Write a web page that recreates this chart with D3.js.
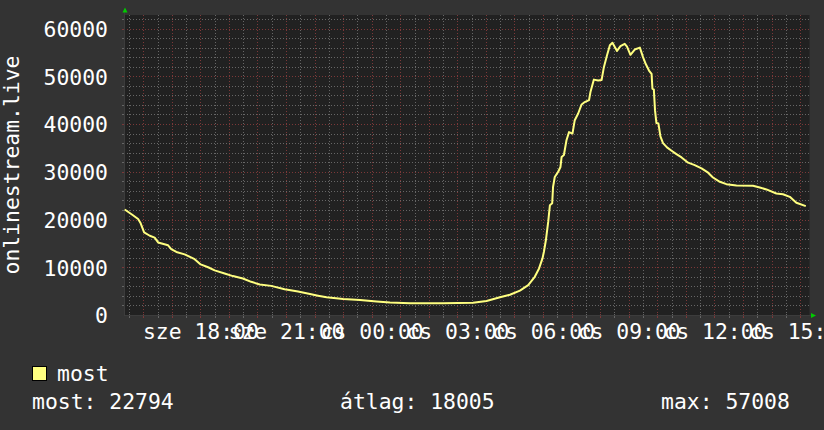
<!DOCTYPE html>
<html lang="hu">

<head>
    <meta charset="UTF-8">
    <title>onlinestream.live</title>
    <script src="https://d3js.org/d3.v7.min.js"></script>
    <style>
        body { margin: 0; background: #333333; }
        text { font-family: "DejaVu Sans Mono", monospace; fill: #ffffff; }
    </style>
</head>

<body>
    <script>
        var width = 824, height = 430;
        var fontSize = '21.4px';
        // plot box
        var plotLeft = 124, plotRight = 809.5, plotTop = 15, plotBottom = 315;

        // hours counted from wednesday 00:00 (24+ = thursday)
        var hours = [15.35, 15.64, 15.82, 15.91, 16.03, 16.23, 16.40, 16.52, 16.87, 16.98,
            17.16, 17.45, 17.80, 18.01, 18.27, 18.50, 18.85, 19.14, 19.49, 19.78,
            20.08, 20.48, 20.95, 21.42, 21.88, 22.12, 22.42, 23.00, 23.59, 24.17,
            24.64, 25.34, 26.50, 27.55, 28.02, 28.49, 28.84, 29.19, 29.48, 29.71,
            29.86, 29.98, 30.03, 30.10, 30.18, 30.24, 30.32, 30.35, 30.41, 30.53,
            30.61, 30.65, 30.73, 30.82, 30.91, 31.03, 31.11, 31.23, 31.35, 31.46,
            31.61, 31.66, 31.78, 31.93, 32.05, 32.13, 32.24, 32.34, 32.43, 32.59,
            32.71, 32.86, 32.94, 33.06, 33.21, 33.39, 33.50, 33.60, 33.71, 33.80,
            33.83, 33.88, 33.92, 33.97, 34.04, 34.11, 34.20, 34.34, 34.50, 34.67,
            34.85, 35.08, 35.31, 35.55, 35.78, 35.95, 36.19, 36.42, 36.77, 37.35,
            37.59, 37.82, 38.17, 38.40, 38.64, 38.87, 39.20];
        var most = [22100, 20900, 20100, 19200, 17300, 16600, 16200, 15200, 14600, 13800,
            13200, 12700, 11700, 10600, 10000, 9350, 8700, 8150, 7650, 6950,
            6400, 6100, 5400, 4900, 4350, 4050, 3700, 3350, 3150, 2850,
            2600, 2450, 2450, 2550, 2950, 3700, 4250, 5100, 6250, 8000,
            9750, 11850, 13250, 15700, 19500, 23000, 23400, 26800, 28900, 30000,
            31000, 33100, 33500, 36600, 38300, 38000, 40800, 42200, 44100, 44600,
            45000, 46700, 49300, 49100, 49200, 51900, 54400, 56500, 57008, 55300,
            56300, 56800, 56200, 54500, 55600, 56000, 54000, 52500, 51200, 50500,
            47400, 47200, 42900, 40200, 40100, 37400, 36000, 35100, 34400, 33700,
            33000, 31900, 31400, 30700, 29800, 28800, 27900, 27400, 27100, 27050,
            26700, 26300, 25450, 25300, 24750, 23500, 22794];

        var yTicks = [0, 10000, 20000, 30000, 40000, 50000, 60000];
        var xTickHours = [18, 21, 24, 27, 30, 33, 36, 39];
        var xTickLabels = ['sze 18:00', 'sze 21:00', 'cs 00:00', 'cs 03:00',
            'cs 06:00', 'cs 09:00', 'cs 12:00', 'cs 15:00'];

        // legend strings
        var seriesName = 'most';
        var statLabels = ['most: 22794', 'átlag: 18005', 'max: 57008'];

        var svg = d3.select('body').append('svg')
            .attr('width', width).attr('height', height);

        svg.append('rect').attr('width', width).attr('height', height).attr('fill', '#333333');

        var x = d3.scaleLinear().domain([15.326, 39.33]).range([plotLeft, plotRight]);
        var y = d3.scaleLinear().domain([0, 62830]).range([plotBottom, plotTop]);

        // plot background
        svg.append('rect')
            .attr('x', plotLeft).attr('y', plotTop)
            .attr('width', plotRight - plotLeft).attr('height', plotBottom - plotTop)
            .attr('fill', '#212121');

        var grid = svg.append('g').attr('shape-rendering', 'crispEdges');

        // minor grid, every 2000 / half hour; major every 10000 / hour
        var minorY = d3.range(2000, 62001, 2000).filter(function (d) { return d % 10000 != 0 });
        var minorX = d3.range(15.5, 39.4, 1);
        var majorY = yTicks.slice(1);
        var majorX = d3.range(16, 39.4, 1);

        function hline(vals, color) {
            grid.selectAll(null).data(vals).join('line')
                .attr('x1', plotLeft).attr('x2', plotRight)
                .attr('y1', function (d) { return Math.round(y(d)) + 0.5 })
                .attr('y2', function (d) { return Math.round(y(d)) + 0.5 })
                .attr('stroke', color).attr('stroke-dasharray', '1,2');
            // little ticks on the axis
            grid.selectAll(null).data(vals).join('line')
                .attr('x1', plotLeft - 2).attr('x2', plotLeft + 1)
                .attr('y1', function (d) { return Math.round(y(d)) + 0.5 })
                .attr('y2', function (d) { return Math.round(y(d)) + 0.5 })
                .attr('stroke', color);
        }
        function vline(vals, color) {
            grid.selectAll(null).data(vals).join('line')
                .attr('y1', plotTop).attr('y2', plotBottom)
                .attr('x1', function (d) { return Math.round(x(d)) + 0.5 })
                .attr('x2', function (d) { return Math.round(x(d)) + 0.5 })
                .attr('stroke', color).attr('stroke-dasharray', '1,2');
            grid.selectAll(null).data(vals).join('line')
                .attr('y1', plotBottom - 1).attr('y2', plotBottom + 3)
                .attr('x1', function (d) { return Math.round(x(d)) + 0.5 })
                .attr('x2', function (d) { return Math.round(x(d)) + 0.5 })
                .attr('stroke', color);
        }
        hline(minorY, '#666666');
        vline(minorX, '#666666');
        hline(majorY, '#7c3838');
        vline(majorX, '#7c3838');

        // axis lines
        grid.append('line').attr('x1', plotLeft + 0.5).attr('x2', plotLeft + 0.5)
            .attr('y1', 10).attr('y2', plotBottom + 0.5).attr('stroke', '#3c3c3c');
        grid.append('line').attr('x1', plotLeft).attr('x2', plotRight + 3)
            .attr('y1', plotBottom + 0.5).attr('y2', plotBottom + 0.5).attr('stroke', '#3c3c3c');

        // green arrows
        svg.append('path').attr('d', 'M125,7.5 L122.5,12.5 L127.5,12.5 Z').attr('fill', '#00cc00');
        svg.append('path').attr('d', 'M811,313 L811,318 L816,315.5 Z').attr('fill', '#00cc00');

        // the data line
        var line = d3.line()
            .x(function (d, i) { return x(hours[i]) })
            .y(function (d) { return y(d) });
        svg.append('path')
            .datum(most)
            .attr('d', line)
            .attr('fill', 'none')
            .attr('stroke', '#ffff80')
            .attr('stroke-width', 2)
            .attr('stroke-linejoin', 'round');

        // y axis labels
        svg.append('g')
            .attr('transform', 'translate(' + plotLeft + ',0)')
            .call(d3.axisLeft(y).tickValues(yTicks).tickSize(0).tickPadding(16)
                .tickFormat(d3.format('d')))
            .call(function (g) { g.select('.domain').remove() })
            .selectAll('text')
            .attr('font-family', '"DejaVu Sans Mono", monospace')
            .attr('font-size', fontSize)
            .attr('fill', '#ffffff')
            .attr('dy', '0.37em');

        // x axis labels
        svg.append('g')
            .attr('transform', 'translate(0,' + plotBottom + ')')
            .call(d3.axisBottom(x).tickValues(xTickHours).tickSize(0)
                .tickFormat(function (d, i) { return xTickLabels[i] }))
            .call(function (g) { g.select('.domain').remove() })
            .selectAll('text')
            .attr('font-family', '"DejaVu Sans Mono", monospace')
            .attr('font-size', fontSize)
            .attr('fill', '#ffffff')
            .attr('y', 24).attr('dy', 0);

        // vertical title
        svg.append('text')
            .attr('transform', 'translate(19,' + (plotTop + plotBottom) / 2 + ') rotate(-90)')
            .attr('text-anchor', 'middle')
            .attr('font-size', fontSize)
            .text('onlinestream.live');

        // legend
        svg.append('rect')
            .attr('x', 32.5).attr('y', 366.5).attr('width', 14).attr('height', 14)
            .attr('fill', '#ffff80').attr('stroke', '#000000');
        svg.append('text')
            .attr('x', 57).attr('y', 381)
            .attr('font-size', fontSize)
            .text(seriesName);

        var statX = [32, 340, 661];
        svg.selectAll('.stat').data(statLabels).join('text')
            .attr('class', 'stat')
            .attr('x', function (d, i) { return statX[i] })
            .attr('y', 409)
            .attr('font-size', fontSize)
            .text(function (d) { return d });
    </script>
</body>

</html>
